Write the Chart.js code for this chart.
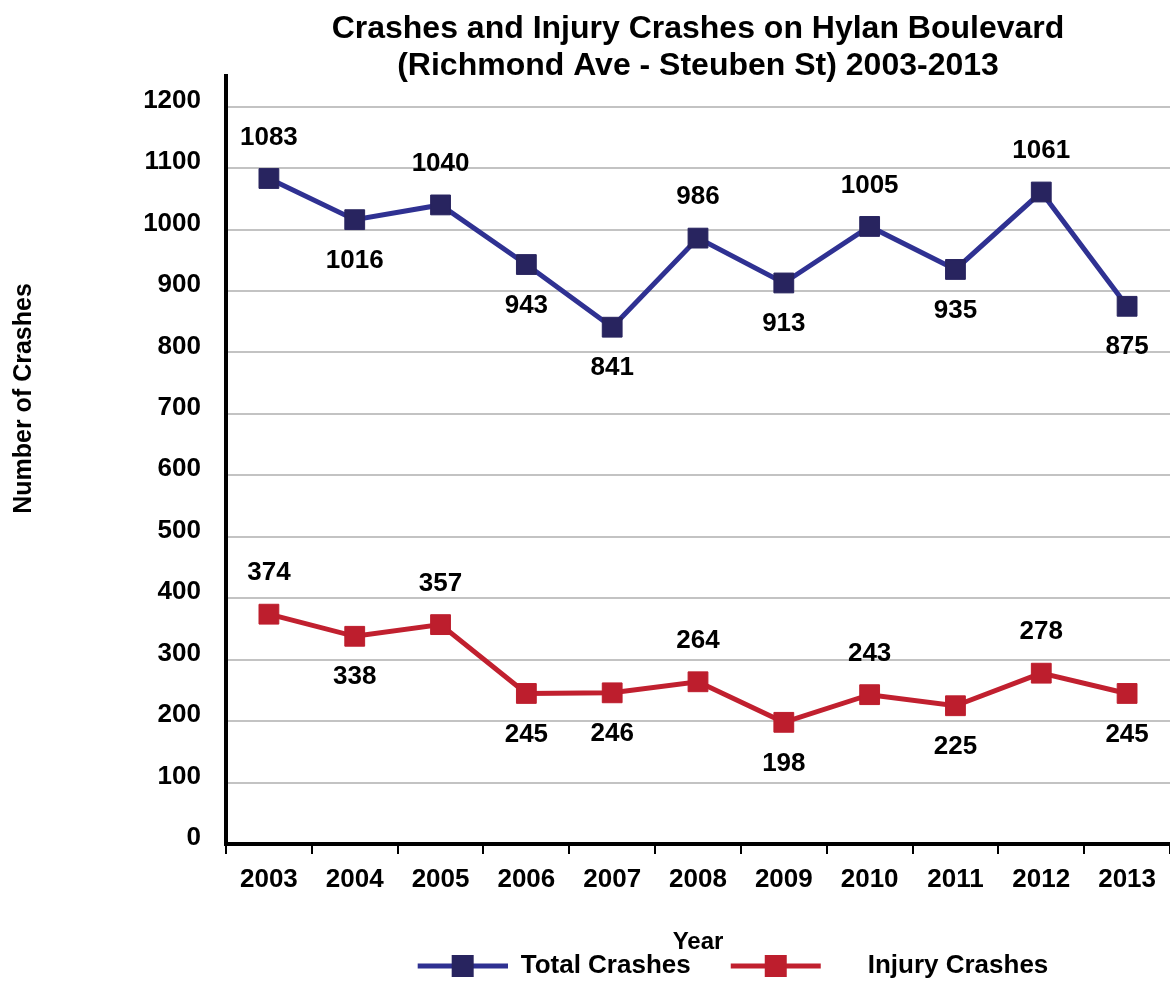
<!DOCTYPE html>
<html>
<head>
<meta charset="utf-8">
<title>Crashes and Injury Crashes on Hylan Boulevard</title>
<script src="https://cdn.jsdelivr.net/npm/chart.js@4.4.0/dist/chart.umd.min.js"></script>
<style>
  body { margin: 0; background: #fff; }
  #wrap { width: 1170px; height: 981px; }
</style>
</head>
<body>
<div id="wrap"><canvas id="crashChart"></canvas></div>
<script>
// Values
var years = ['2003', '2004', '2005', '2006', '2007', '2008', '2009', '2010', '2011', '2012', '2013'];
var totalCrashes = [1083, 1016, 1040, 943, 841, 986, 913, 1005, 935, 1061, 875];
var injuryCrashes = [374, 338, 357, 245, 246, 264, 198, 243, 225, 278, 245];

// Which side of the marker each value label sits on
var totalLabelSide = ['up', 'down', 'up', 'down', 'down', 'up', 'down', 'up', 'down', 'up', 'down'];
var injuryLabelSide = ['up', 'down', 'up', 'down', 'down', 'up', 'down', 'up', 'down', 'up', 'down'];

var yTitle = 'Number of Crashes';

var FONT = '"Liberation Sans", Arial, Helvetica, sans-serif';
var NAVY_LINE = '#2f3192';
var NAVY_MARK = '#28245f';
var RED_LINE = '#c1202f';
var RED_MARK = '#bd1e2d';

// Line + square picture for the legend (lead/trail = empty room around it)
function legendIcon(lineColor, boxColor, lead, trail) {
    var c = document.createElement('canvas');
    c.width = lead + 90 + trail;
    c.height = 24;
    var g = c.getContext('2d');
    g.strokeStyle = lineColor;
    g.lineWidth = 5;
    g.beginPath();
    g.moveTo(lead, 12);
    g.lineTo(lead + 90, 12);
    g.stroke();
    g.fillStyle = boxColor;
    g.fillRect(lead + 34, 1, 22, 22);
    return c;
}

// Draw the number next to every point
var valueLabels = {
    id: 'valueLabels',
    afterDatasetsDraw: function (chart) {
        var ctx = chart.ctx;
        ctx.save();
        ctx.font = 'bold 26px ' + FONT;
        ctx.fillStyle = '#000';
        ctx.textAlign = 'center';
        ctx.textBaseline = 'middle';
        chart.data.datasets.forEach(function (ds, i) {
            var meta = chart.getDatasetMeta(i);
            meta.data.forEach(function (pt, j) {
                var dy = ds.labelSide[j] === 'up' ? -41 : 41;
                ctx.fillText(ds.data[j], pt.x, pt.y + dy);
            });
        });
        ctx.restore();
    }
};

// y axis title sits a bit above the middle of the plot in the original
var sideTitle = {
    id: 'sideTitle',
    afterDraw: function (chart) {
        var a = chart.chartArea;
        var c = chart.ctx;
        c.save();
        c.translate(24, a.top + a.height * 0.42);
        c.rotate(-Math.PI / 2);
        c.font = 'bold 25px ' + FONT;
        c.fillStyle = '#000';
        c.textAlign = 'center';
        c.textBaseline = 'middle';
        c.fillText(yTitle, 0, 0);
        c.restore();
    }
};

var ctx = document.getElementById('crashChart').getContext('2d');

var crashChart = new Chart(ctx, {
    type: 'line',
    data: {
        labels: years,
        datasets: [{
            label: 'Total Crashes',
            data: totalCrashes,
            labelSide: totalLabelSide,
            borderColor: NAVY_LINE,
            backgroundColor: NAVY_MARK,
            pointBackgroundColor: NAVY_MARK,
            pointBorderColor: NAVY_MARK,
            borderWidth: 5,
            pointStyle: 'rect',
            pointRadius: 14,
            pointBorderWidth: 1,
            tension: 0
        }, {
            label: 'Injury Crashes',
            data: injuryCrashes,
            labelSide: injuryLabelSide,
            borderColor: RED_LINE,
            backgroundColor: RED_MARK,
            pointBackgroundColor: RED_MARK,
            pointBorderColor: RED_MARK,
            borderWidth: 5,
            pointStyle: 'rect',
            pointRadius: 14,
            pointBorderWidth: 1,
            tension: 0
        }]
    },
    options: {
        responsive: true,
        maintainAspectRatio: false,
        animation: false,
        layout: { autoPadding: false, padding: { top: 0, left: 0, right: 0, bottom: -8 } },
        plugins: {
            title: {
                display: true,
                fullSize: false,
                text: ['Crashes and Injury Crashes on Hylan Boulevard', '(Richmond Ave - Steuben St) 2003-2013'],
                color: '#000',
                font: { family: FONT, size: 32, weight: 'bold', lineHeight: 1.17 },
                padding: { top: 10, bottom: -9 }
            },
            legend: {
                position: 'bottom',
                fullSize: false,
                labels: {
                    color: '#000',
                    font: { family: FONT, size: 26, weight: 'bold' },
                    usePointStyle: true,
                    pointStyleWidth: 160,
                    padding: 4,
                    generateLabels: function (chart) {
                        var items = Chart.defaults.plugins.legend.labels.generateLabels(chart);
                        items[0].pointStyle = legendIcon(NAVY_LINE, NAVY_MARK, 70, 0);
                        items[1].pointStyle = legendIcon(RED_LINE, RED_MARK, 36, 34);
                        return items;
                    }
                }
            },
            tooltip: { enabled: false }
        },
        scales: {
            x: {
                offset: true,
                afterFit: function (scale) { scale.height = 105; },
                grid: {
                    offset: true,
                    drawOnChartArea: false,
                    drawTicks: true,
                    tickLength: 10,
                    color: '#000',
                    lineWidth: 2
                },
                border: { display: true, color: '#000', width: 4 },
                ticks: {
                    color: '#000',
                    font: { family: FONT, size: 26, weight: 'bold' },
                    padding: 10,
                    maxRotation: 0
                },
                title: {
                    display: true,
                    text: 'Year',
                    color: '#000',
                    font: { family: FONT, size: 24, weight: 'bold' },
                    padding: { top: 0, bottom: -8 }
                }
            },
            y: {
                min: 0,
                max: 1250,
                afterFit: function (scale) { scale.width = 226; },
                afterBuildTicks: function (scale) {
                    scale.ticks = scale.ticks.filter(function (t) { return t.value % 100 === 0; });
                },
                grid: {
                    color: '#c3c3c3',
                    lineWidth: 2,
                    drawTicks: false
                },
                border: { display: true, color: '#000', width: 4 },
                ticks: {
                    stepSize: 100,
                    color: '#000',
                    font: { family: FONT, size: 26, weight: 'bold' },
                    padding: 25,
                    labelOffset: -6,
                    callback: function (v) { return String(v); }
                }
            }
        }
    },
    plugins: [valueLabels, sideTitle]
});
</script>
</body>
</html>
